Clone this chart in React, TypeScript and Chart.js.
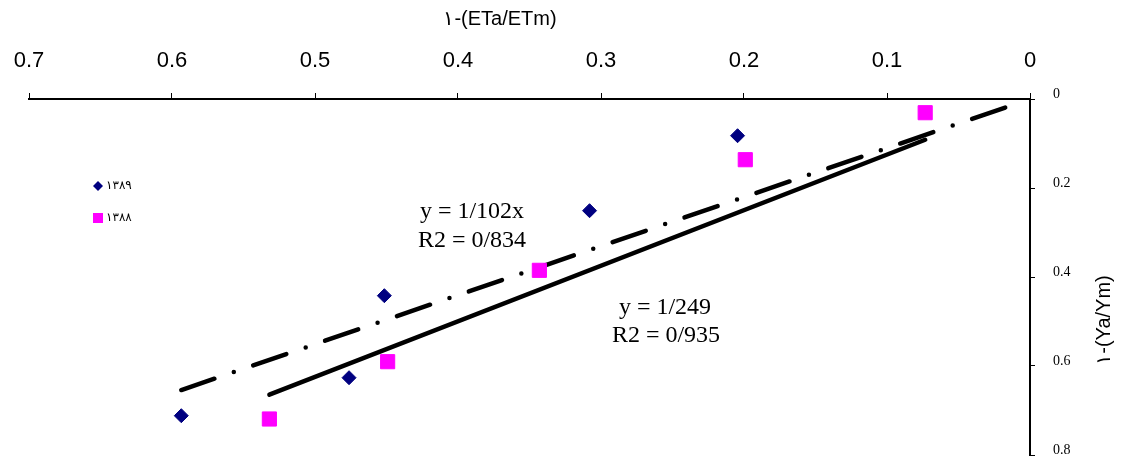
import React, { useEffect, useRef } from "react";
import { Chart, registerables } from "chart.js";

Chart.register(...registerables);

// ---- data ----
const seriesNames = ["۱۳۸۹", "۱۳۸۸"];
const yr1389X = [0.5935, 0.4762, 0.4515, 0.308, 0.2045];
const yr1389Y = [0.7117, 0.6263, 0.442, 0.251, 0.0825];
const yr1388X = [0.5319, 0.4492, 0.3431, 0.1991, 0.0733];
const yr1388Y = [0.7191, 0.5903, 0.385, 0.1364, 0.0308];

// trend lines (through origin): slope and drawn x-range
const trend1389Slope = 1.102;
const trend1389XRange = [0.5935, 0.0095];
const trend1388Slope = 1.249;
const trend1388XRange = [0.5319, 0.0733];

const eq1389Lines = ["y = 1/102x", "R2 = 0/834"];
const eq1388Lines = ["y = 1/249", "R2 = 0/935"];

const xTitle = "۱-(ETa/ETm)";
const yTitle = "۱-(Ya/Ym)";
const xTicks = [0, 0.1, 0.2, 0.3, 0.4, 0.5, 0.6, 0.7];
const yTicks = [0, 0.2, 0.4, 0.6, 0.8];

const NAVY = "#000080";
const MAGENTA = "#FF00FF";

const fmt = (v: number) => String(Number(v.toFixed(1)));

export default function App() {
  const ref = useRef<HTMLCanvasElement | null>(null);

  useEffect(() => {
    document.body.style.margin = "0";
    const canvas = ref.current;
    if (!canvas) return;

    const pts1389 = yr1389X.map((x, i) => ({ x, y: yr1389Y[i] }));
    const pts1388 = yr1388X.map((x, i) => ({ x, y: yr1388Y[i] }));
    const line1389 = trend1389XRange.map((x) => ({ x, y: trend1389Slope * x }));
    const line1388 = trend1388XRange.map((x) => ({ x, y: trend1388Slope * x }));

    const overlay = {
      id: "overlay",
      afterDraw(chart: any) {
        const ctx = chart.ctx as CanvasRenderingContext2D;
        ctx.save();
        ctx.direction = "ltr";
        ctx.fillStyle = "#000";
        // axis titles
        ctx.font = "20px 'Liberation Sans', Arial, sans-serif";
        ctx.textAlign = "center";
        ctx.textBaseline = "middle";
        ctx.fillText(xTitle, 500, 19);
        ctx.save();
        ctx.translate(1104, 320);
        ctx.rotate(-Math.PI / 2);
        ctx.fillText(yTitle, 0, 0);
        ctx.restore();
        // equations
        ctx.font = "24px 'Liberation Serif', 'Times New Roman', serif";
        ctx.textBaseline = "middle";
        ctx.fillText(eq1389Lines[0], 472, 212);
        ctx.fillText(eq1389Lines[1], 472, 241);
        ctx.fillText(eq1388Lines[0], 665, 308);
        ctx.fillText(eq1388Lines[1], 666, 336);
        // legend
        ctx.fillStyle = NAVY;
        ctx.beginPath();
        ctx.moveTo(98, 181);
        ctx.lineTo(103, 186);
        ctx.lineTo(98, 191);
        ctx.lineTo(93, 186);
        ctx.closePath();
        ctx.fill();
        ctx.fillStyle = MAGENTA;
        ctx.fillRect(93, 213, 10, 10);
        ctx.fillStyle = "#000";
        ctx.font = "12px 'DejaVu Sans', sans-serif";
        ctx.textAlign = "left";
        ctx.fillText(seriesNames[0], 106, 186);
        ctx.fillText(seriesNames[1], 106, 218);
        ctx.restore();
      },
    };

    const chart = new Chart(canvas, {
      type: "scatter",
      data: {
        datasets: [
          {
            label: seriesNames[0],
            data: pts1389,
            pointStyle: "rectRot",
            pointRadius: 7,
            pointHoverRadius: 7,
            backgroundColor: NAVY,
            borderColor: NAVY,
            borderWidth: 1,
            showLine: false,
          },
          {
            label: seriesNames[1],
            data: pts1388,
            pointStyle: "rect",
            pointRadius: 10,
            pointHoverRadius: 10,
            backgroundColor: MAGENTA,
            borderColor: MAGENTA,
            borderWidth: 1,
            showLine: false,
          },
          {
            label: "trend 1389",
            data: line1389,
            showLine: true,
            pointRadius: 0,
            borderColor: "#000",
            borderWidth: 4.5,
            borderDash: [35, 20.5, 0, 20.5],
            borderCapStyle: "round",
            fill: false,
          },
          {
            label: "trend 1388",
            data: line1388,
            showLine: true,
            pointRadius: 0,
            borderColor: "#000",
            borderWidth: 4.5,
            borderCapStyle: "round",
            fill: false,
          },
        ] as any,
      },
      options: {
        animation: false,
        responsive: false,
        events: [],
        layout: { autoPadding: false, padding: { left: 29, top: 0, right: 0, bottom: 2 } },
        plugins: {
          legend: { display: false },
          tooltip: { enabled: false },
        },
        scales: {
          x: {
            type: "linear",
            position: "top",
            min: 0,
            max: 0.7,
            reverse: true,
            afterBuildTicks: (s: any) => {
              s.ticks = xTicks.map((v) => ({ value: v }));
            },
            ticks: {
              callback: (v: any) => fmt(Number(v)),
              color: "#000",
              font: { family: "'Liberation Sans', Arial, sans-serif", size: 22 },
              padding: 19,
              maxRotation: 0,
            },
            grid: {
              drawOnChartArea: false,
              drawTicks: true,
              tickLength: 6,
              color: "#000",
              lineWidth: 1,
            },
            border: { display: true, color: "#000", width: 2 },
            afterFit: (s: any) => {
              s.height = 99;
              s.paddingLeft = 0;
              s.paddingRight = 0;
            },
          },
          y: {
            type: "linear",
            position: "right",
            min: 0,
            max: 0.8,
            reverse: true,
            afterBuildTicks: (s: any) => {
              s.ticks = yTicks.map((v) => ({ value: v }));
            },
            ticks: {
              callback: (v: any) => fmt(Number(v)),
              color: "#000",
              font: { family: "'Liberation Serif', 'Times New Roman', serif", size: 14 },
              padding: 18,
              labelOffset: -5,
            },
            grid: {
              drawOnChartArea: false,
              drawTicks: true,
              tickLength: 5,
              color: "#000",
              lineWidth: 1,
            },
            border: { display: true, color: "#000", width: 2 },
            afterFit: (s: any) => {
              s.width = 91;
              s.paddingTop = 0;
              s.paddingBottom = 0;
            },
          },
        },
      } as any,
      plugins: [overlay],
    });

    return () => chart.destroy();
  }, []);

  return (
    <div style={{ width: 1121, height: 457, background: "#fff" }}>
      <canvas ref={ref} width={1121} height={457} style={{ display: "block" }} />
    </div>
  );
}
